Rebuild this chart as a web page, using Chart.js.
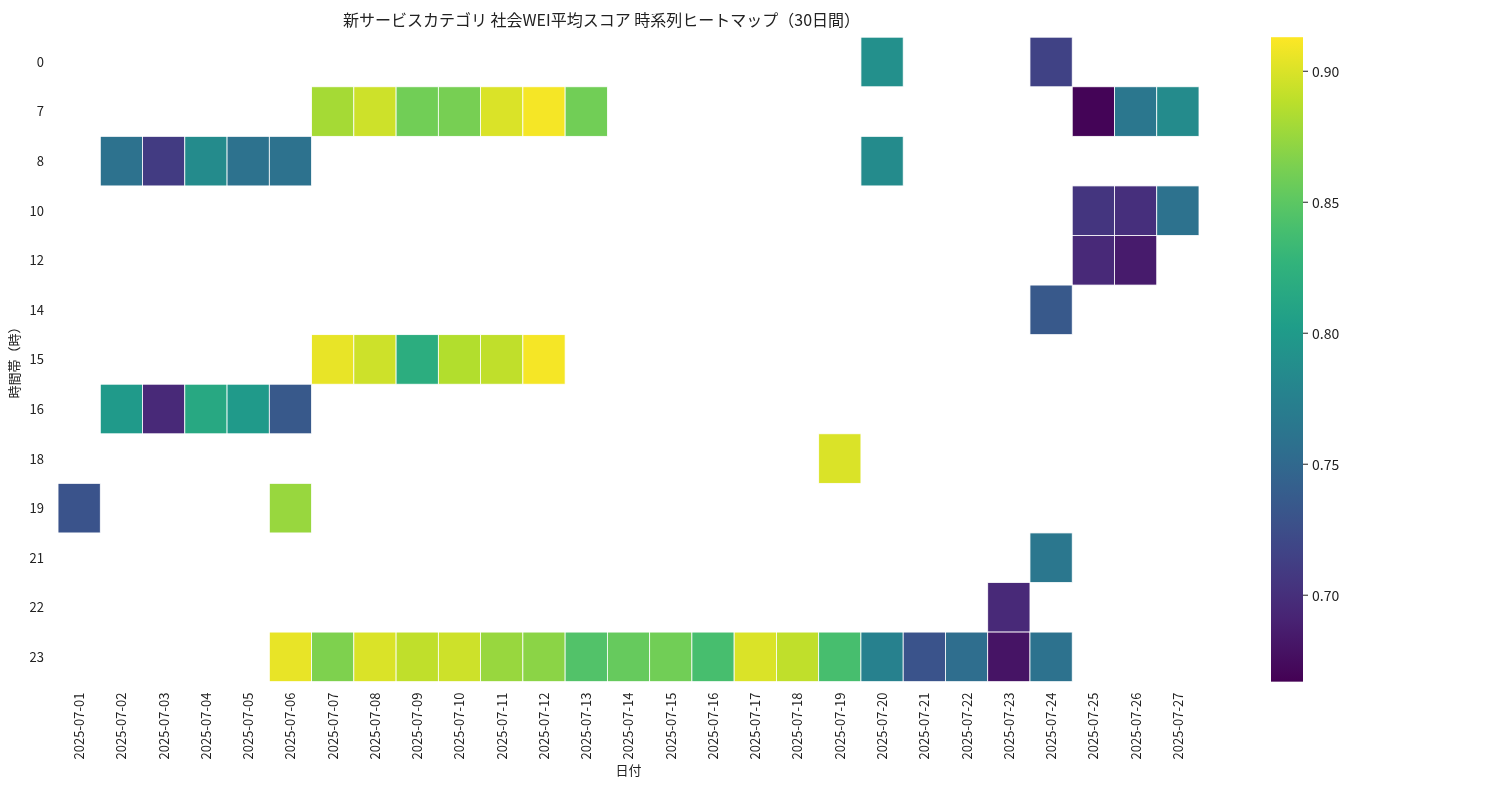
<!DOCTYPE html>
<html><head><meta charset="utf-8">
<script src="https://cdn.jsdelivr.net/npm/chart.js@4"></script>
<style>body{margin:0;background:#fff}#w{width:1500px;height:800px}</style></head>
<body><div id="w"><canvas id="c"></canvas></div>
<script>
const dates=[];for(let d=1;d<=27;d++)dates.push('2025-07-'+String(d).padStart(2,'0'));
const hours=['0','7','8','10','12','14','15','16','18','19','21','22','23'];
const h0={'2025-07-20':0.79,'2025-07-24':0.715};
const h7={'2025-07-07':0.88,'2025-07-08':0.895,'2025-07-09':0.86,'2025-07-10':0.862,'2025-07-11':0.90,'2025-07-12':0.91,'2025-07-13':0.86,'2025-07-25':0.669,'2025-07-26':0.765,'2025-07-27':0.785};
const h8={'2025-07-02':0.76,'2025-07-03':0.71,'2025-07-04':0.785,'2025-07-05':0.76,'2025-07-06':0.76,'2025-07-20':0.785};
const h10={'2025-07-25':0.705,'2025-07-26':0.70,'2025-07-27':0.76};
const h12={'2025-07-25':0.695,'2025-07-26':0.685};
const h14={'2025-07-24':0.735};
const h15={'2025-07-07':0.905,'2025-07-08':0.895,'2025-07-09':0.82,'2025-07-10':0.885,'2025-07-11':0.89,'2025-07-12':0.91};
const h16={'2025-07-02':0.80,'2025-07-03':0.695,'2025-07-04':0.815,'2025-07-05':0.80,'2025-07-06':0.735};
const h18={'2025-07-19':0.90};
const h19={'2025-07-01':0.73,'2025-07-06':0.875};
const h21={'2025-07-24':0.765};
const h22={'2025-07-23':0.695};
const h23={'2025-07-06':0.905,'2025-07-07':0.865,'2025-07-08':0.90,'2025-07-09':0.89,'2025-07-10':0.895,'2025-07-11':0.875,'2025-07-12':0.87,'2025-07-13':0.845,'2025-07-14':0.855,'2025-07-15':0.86,'2025-07-16':0.84,'2025-07-17':0.90,'2025-07-18':0.89,'2025-07-19':0.84,'2025-07-20':0.775,'2025-07-21':0.73,'2025-07-22':0.755,'2025-07-23':0.68,'2025-07-24':0.76};
const rows=[h0,h7,h8,h10,h12,h14,h15,h16,h18,h19,h21,h22,h23];
const cbTicks=[0.70,0.75,0.80,0.85,0.90];
const vmin=0.667,vmax=0.913;

const pts=[];rows.forEach((r,i)=>{for(const d in r)pts.push({x:d,y:hours[i],v:r[d]});});
const vir=[[68,1,84],[72,40,120],[62,74,137],[49,104,142],[38,130,142],[31,158,137],[53,183,121],[109,205,89],[180,222,44],[253,231,37]];
function col(t){t=Math.max(0,Math.min(1,t))*(vir.length-1);const i=Math.min(vir.length-2,Math.floor(t)),f=t-i;const a=vir[i],b=vir[i+1];return `rgb(${a.map((v,k)=>Math.round(v+(b[k]-v)*f)).join(',')})`;}
const heat={id:'heat',afterDatasetsDraw(ch){const {ctx,scales:{x,y},chartArea:ca}=ch;
 const cw=(ca.right-ca.left)/dates.length,rh=(ca.bottom-ca.top)/hours.length;
 ctx.save();
 ch.data.datasets[0].data.forEach(p=>{const cx=x.getPixelForValue(dates.indexOf(p.x)),cy=y.getPixelForValue(hours.indexOf(p.y));
  ctx.fillStyle=col((p.v-vmin)/(vmax-vmin));ctx.fillRect(cx-cw/2,cy-rh/2,cw,rh);
  ctx.strokeStyle='#fff';ctx.lineWidth=0.8;ctx.strokeRect(cx-cw/2,cy-rh/2,cw,rh);});
 const bx=1271,bw=32,top=ca.top,bot=ca.bottom;
 const g=ctx.createLinearGradient(0,bot,0,top);for(let i=0;i<=20;i++)g.addColorStop(i/20,col(i/20));
 ctx.fillStyle=g;ctx.fillRect(bx,top,bw,bot-top);
 ctx.fillStyle='#222';ctx.strokeStyle='#222';ctx.lineWidth=1;ctx.font='14px "Noto Sans CJK JP"';ctx.textBaseline='middle';ctx.textAlign='left';
 cbTicks.forEach(t=>{const py=bot-(t-vmin)/(vmax-vmin)*(bot-top);ctx.beginPath();ctx.moveTo(bx+bw,py);ctx.lineTo(bx+bw+5,py);ctx.stroke();ctx.fillText(t.toFixed(2),bx+bw+9,py);});
 ctx.restore();}};
new Chart(document.getElementById('c'),{type:'scatter',
 data:{datasets:[{data:pts,pointRadius:0,pointHoverRadius:0}]},
 options:{responsive:true,maintainAspectRatio:false,animation:false,
  layout:{padding:{left:4,right:301,top:6,bottom:22}},
  plugins:{legend:{display:false},tooltip:{enabled:false},
   title:{display:true,text:'新サービスカテゴリ 社会WEI平均スコア 時系列ヒートマップ（30日間）',color:'#222',font:{size:16,family:'"Noto Sans CJK JP"',weight:'normal'},padding:{top:4,bottom:8}}},
  scales:{
   x:{type:'category',labels:dates,offset:true,grid:{display:false},border:{display:false},
      ticks:{maxRotation:90,minRotation:90,autoSkip:false,color:'#222',font:{size:13,family:'"Noto Sans CJK JP"'}},
      title:{display:true,text:'日付',color:'#222',font:{size:13,family:'"Noto Sans CJK JP"'},padding:0}},
   y:{type:'category',labels:hours,offset:true,grid:{display:false},border:{display:false},
      ticks:{autoSkip:false,color:'#222',padding:6,font:{size:13,family:'"Noto Sans CJK JP"'}},
      title:{display:true,text:'時間帯（時）',color:'#222',font:{size:13,family:'"Noto Sans CJK JP"'},padding:2}}}},
 plugins:[heat]});
</script></body></html>
